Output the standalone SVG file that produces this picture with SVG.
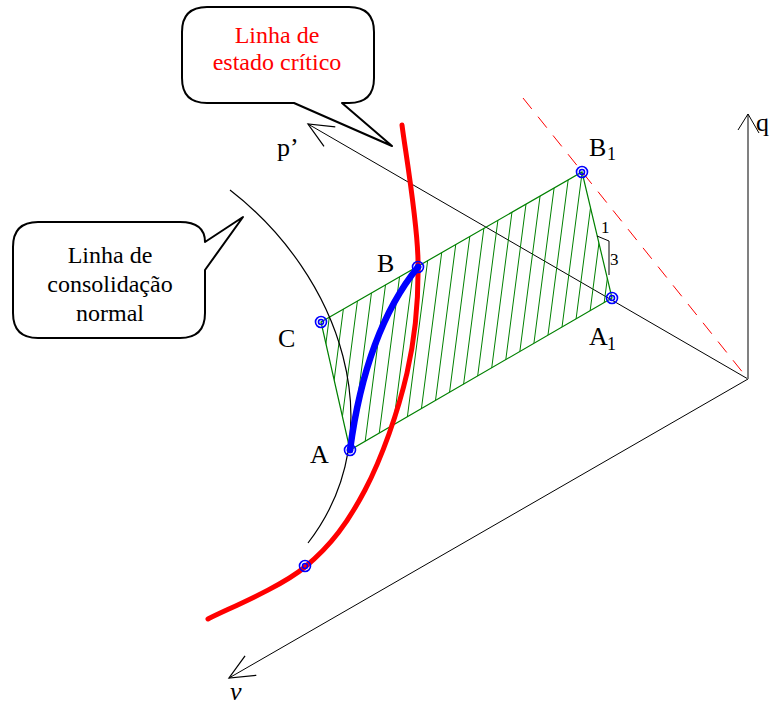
<svg xmlns="http://www.w3.org/2000/svg" width="770" height="707" viewBox="0 0 770 707">
<style>
.lbl{font-family:"Liberation Serif","Times New Roman",serif;font-size:26px;fill:#000}
.sub{font-family:"Liberation Serif","Times New Roman",serif;font-size:18px;fill:#000}
.small{font-family:"Liberation Serif","Times New Roman",serif;font-size:17px;fill:#000}
.ct{font-family:"Liberation Serif","Times New Roman",serif;font-size:24px;text-anchor:middle}
.axis{stroke:#000;stroke-width:1;fill:none}
.bubble{fill:#fff;stroke:#000;stroke-width:2;stroke-linejoin:round}
.pt{fill:none;stroke:#0000ff;stroke-width:1.6}
</style>
<defs>
<marker id="arr" markerUnits="userSpaceOnUse" markerWidth="30" markerHeight="30" refX="0" refY="0" viewBox="-22 -12 24 24" orient="auto" overflow="visible">
<path d="M-20,-9 L0,0 L-20,9" fill="none" stroke="#000" stroke-width="1"/>
</marker>
<pattern id="hatch" patternUnits="userSpaceOnUse" width="13" height="40" patternTransform="skewX(-7.4)">
<line x1="6.5" y1="-1" x2="6.5" y2="41" stroke="#008000" stroke-width="1"/>
</pattern>
</defs>

<g id="axes">
<line class="axis" x1="748" y1="379" x2="308" y2="124" marker-end="url(#arr)"/>
<line class="axis" x1="748" y1="379" x2="229" y2="678" marker-end="url(#arr)"/>
<line x1="748" y1="379" x2="748" y2="114" stroke="#808080" stroke-width="2"/>
<path d="M738,130 L748,114 L759,133" fill="none" stroke="#000" stroke-width="1"/>
<text class="lbl" x="277" y="156">p’</text>
<text class="lbl" x="756" y="131">q</text>
<text class="lbl" x="230" y="700" font-style="italic">v</text>
</g>

<g id="csl-dashed">
<line x1="523" y1="98" x2="748" y2="379" stroke="#ff0000" stroke-width="1" stroke-dasharray="14,10"/>
</g>

<g id="region">
<polygon points="321,322 582,172 612,298 350,450" fill="url(#hatch)" stroke="#008000" stroke-width="1.2"/>
</g>

<g id="slope">
<path d="M597,236 L609,241 L609,275" fill="none" stroke="#000" stroke-width="1"/>
<text class="small" x="601" y="233">1</text>
<text class="small" x="610" y="265">3</text>
</g>

<g id="ncl">
<path d="M230,190 C340,275 395,430 308,543" fill="none" stroke="#000" stroke-width="1.2"/>
</g>

<g id="csl">
<path d="M402,125 C404.7,147.5 417.2,218.7 418,260 C418.8,301.3 415.8,334.7 407,373 C398.2,411.3 382,457.7 365,490 C348,522.3 331.2,545.5 305,567 C278.8,588.5 224.2,610.3 208,619" fill="none" stroke="#ff0000" stroke-width="5" stroke-linecap="round"/>
</g>

<g id="path-AB">
<path d="M350,450 C358,390 375,320 418,267" fill="none" stroke="#0000ff" stroke-width="6.5" stroke-linecap="round"/>
</g>

<g id="points">
<g id="pt-B1"><circle class="pt" cx="582" cy="172" r="5.5"/><circle class="pt" cx="582" cy="172" r="2.5"/></g>
<g id="pt-A1"><circle class="pt" cx="612" cy="298" r="5.5"/><circle class="pt" cx="612" cy="298" r="2.5"/></g>
<g id="pt-B"><circle class="pt" cx="418" cy="267" r="5.5"/><circle class="pt" cx="418" cy="267" r="2.5"/></g>
<g id="pt-A"><circle class="pt" cx="350" cy="450" r="5.5"/><circle class="pt" cx="350" cy="450" r="2.5"/></g>
<g id="pt-C"><circle class="pt" cx="321" cy="322" r="5.5"/><circle class="pt" cx="321" cy="322" r="2.5"/></g>
<g id="pt-D"><circle class="pt" cx="305" cy="566" r="5.5"/><circle class="pt" cx="305" cy="566" r="2.5"/></g>
</g>

<g id="labels">
<text class="lbl" x="589" y="156">B</text><text class="sub" x="607" y="160">1</text>
<text class="lbl" x="589" y="345">A</text><text class="sub" x="607" y="350">1</text>
<text class="lbl" x="377" y="272">B</text>
<text class="lbl" x="278" y="347">C</text>
<text class="lbl" x="310" y="463">A</text>
</g>

<g id="callout-csl">
<path class="bubble" d="M207,7 L349,7 Q374,7 374,32 L374,78 Q374,103 349,103 L342,103 L392,146 L294,103 L207,103 Q182,103 182,78 L182,32 Q182,7 207,7 Z"/>
<text class="ct" x="277" y="43" fill="#ff0000">Linha de</text>
<text class="ct" x="277" y="70" fill="#ff0000">estado crítico</text>
</g>

<g id="callout-ncl">
<path class="bubble" d="M38,222 L180,222 Q205,222 205,242 L243,217 L205,270 L205,313 Q205,338 180,338 L38,338 Q13,338 13,313 L13,247 Q13,222 38,222 Z"/>
<text class="ct" x="110" y="263" fill="#000">Linha de</text>
<text class="ct" x="110" y="292" fill="#000">consolidação</text>
<text class="ct" x="110" y="321" fill="#000">normal</text>
</g>
</svg>
